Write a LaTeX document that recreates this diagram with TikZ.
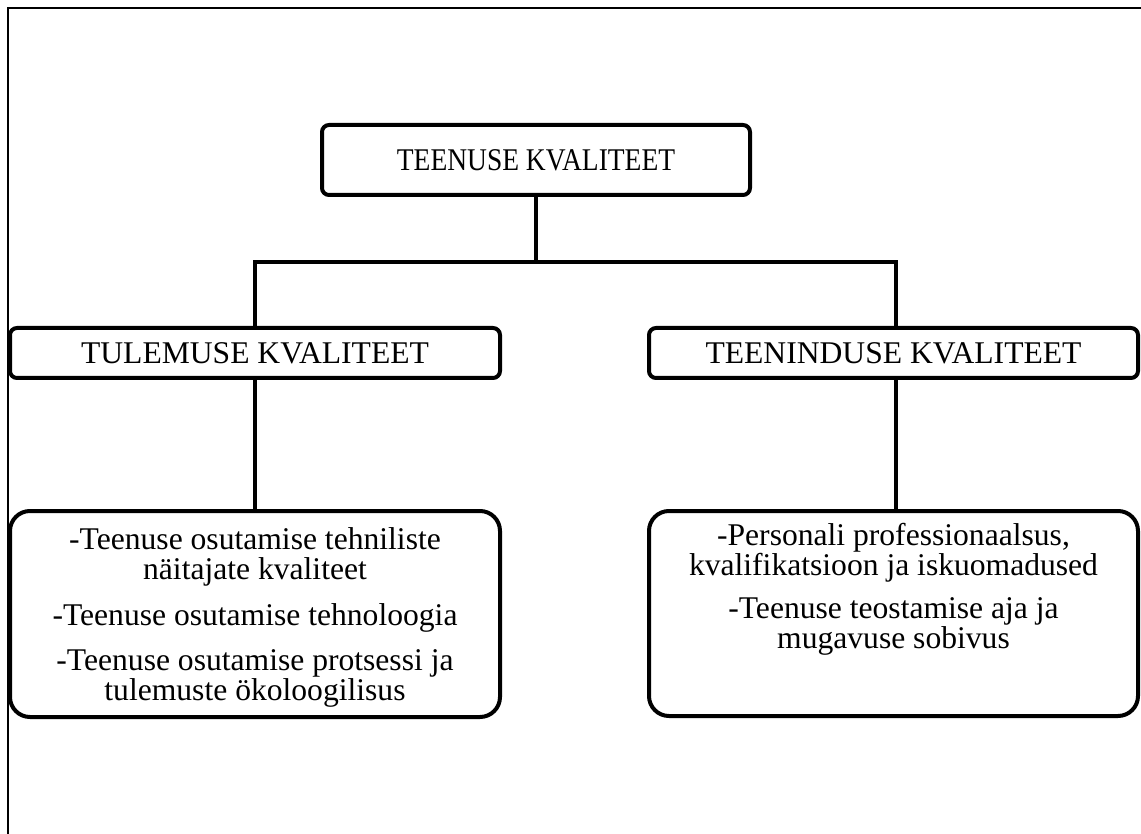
\documentclass[tikz,border=0pt]{standalone}
\usepackage{fontspec}
\usepackage{graphicx}
\setmainfont{Liberation Serif}
\begin{document}
\begin{tikzpicture}[x=1pt,y=-1pt,
  box/.style={draw, line width=4pt, rounded corners=7pt, inner sep=0pt},
  bigbox/.style={draw, line width=4pt, rounded corners=20pt, inner sep=0pt},
  conn/.style={line width=4pt},
  frameline/.style={line width=2pt},
  txt/.style={font=\fontsize{31.6}{30}\selectfont, align=center, inner sep=0pt}]
\useasboundingbox (0,0) rectangle (1141,834);
\draw[frameline] (8,834) -- (8,8) -- (1141,8);
% boxes
\node[box, txt, minimum width=428pt, minimum height=70pt] (top) at (536,160) {\scalebox{0.87}[1]{TEENUSE KVALITEET}};
\node[box, txt, minimum width=490pt, minimum height=50pt] (ml) at (255,353) {TULEMUSE KVALITEET};
\node[box, txt, minimum width=489pt, minimum height=50pt] (mr) at (893.5,353) {TEENINDUSE KVALITEET};
\node[bigbox, minimum width=490pt, minimum height=206pt] (bl) at (255,614) {};
\node[bigbox, minimum width=489pt, minimum height=205pt] (br) at (893.5,613.5) {};
\node[txt] (bltext) at (255,617) {-Teenuse osutamise tehniliste\\näitajate kvaliteet\\[16pt]-Teenuse osutamise tehnoloogia\\[15pt]-Teenuse osutamise protsessi ja\\tulemuste ökoloogilisus};
\node[txt] (brtext) at (893.5,589) {-Personali professionaalsus,\\kvalifikatsioon ja iskuomadused\\[13pt]-Teenuse teostamise aja ja\\mugavuse sobivus};
% connectors
\coordinate (jc) at (536,262);
\coordinate (jr) at (896,262);
\draw[conn] (top.south) -- (jc);
\draw[conn] (ml.north) |- (jr) -- (jr |- mr.north);
\draw[conn] (ml.south) -- (bl.north);
\draw[conn] (jr |- mr.south) -- (jr |- br.north);
\end{tikzpicture}
\end{document}
